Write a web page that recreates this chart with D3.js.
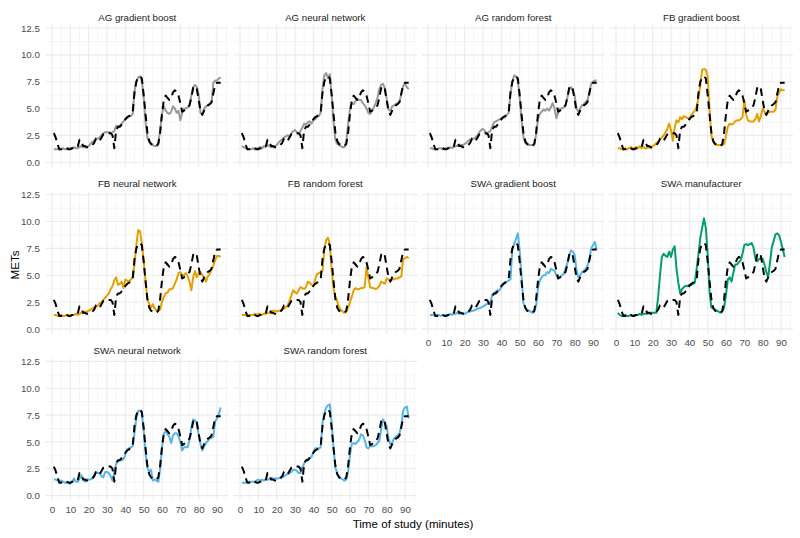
<!DOCTYPE html>
<html><head><meta charset="utf-8">
<script src="https://cdn.jsdelivr.net/npm/d3@7"></script>
<style>body{margin:0;background:#fff}</style>
</head><body><svg id="c" width="800" height="538"></svg>
<script>
const minutes = [1,2,3,4,5,6,7,8,9,10,11,12,13,14,15,16,17,18,19,20,21,22,23,24,25,26,27,28,29,30,31,32,33,34,35,36,37,38,39,40,41,42,43,44,45,46,47,48,49,50,51,52,53,54,55,56,57,58,59,60,61,62,63,64,65,66,67,68,69,70,71,72,73,74,75,76,77,78,79,80,81,82,83,84,85,86,87,88,89,90,91,92];

const facetNames = ["AG gradient boost","AG neural network","AG random forest","FB gradient boost","FB neural network","FB random forest","SWA gradient boost","SWA manufacturer","SWA neural network","SWA random forest"];
const facetColors = ["#999999","#999999","#999999","#E69F00","#E69F00","#E69F00","#56B4E9","#009E73","#56B4E9","#56B4E9"];

const criterion = [2.7,2.3,1.7,1.2,1.2,1.3,1.4,1.3,1.2,1.2, 1.3,1.3,1.3,1.4,2.1,1.9,1.5,1.5,1.4,1.4, 1.5,1.6,1.8,2.2,2.2,2.0,2.3,2.6,2.7,2.7, 2.7,2.7,2.5,1.3,3.0,3.3,3.3,3.5,3.7,4.0, 4.2,4.3,4.4,4.6,6.5,7.5,7.9,8.0,7.8,6.3, 4.5,2.8,2.0,1.7,1.6,1.5,1.5,1.7,2.8,4.5, 5.8,6.2,6.0,5.8,6.0,6.5,6.7,6.6,6.2,5.5, 4.7,4.8,5.0,5.1,5.3,6.0,6.9,7.1,6.8,5.8, 4.8,4.4,4.8,5.1,5.3,5.4,5.6,6.4,7.2,7.4, 7.4,7.4];

const agGradientBoost = [1.2,1.2,1.2,1.2,1.2,1.3,1.2,1.2,1.3,1.3, 1.3,1.4,1.3,1.3,1.4,1.5,1.4,1.4,1.4,1.5, 1.7,1.9,2.0,2.2,2.2,2.3,2.5,2.7,2.8,2.8, 2.8,2.7,2.8,2.9,3.4,3.3,3.4,3.6,3.8,4.0, 4.1,4.3,4.3,4.5,6.6,7.5,7.9,8.0,7.6,6.0, 3.8,2.3,1.9,1.7,1.6,1.5,1.5,1.8,3.0,4.5, 5.2,4.8,4.6,4.5,4.7,5.2,5.0,4.6,4.8,3.9, 4.6,5.0,5.0,5.1,5.3,6.2,7.0,7.2,7.0,6.3, 4.6,4.5,5.0,5.2,5.3,5.4,5.5,7.4,7.6,7.6, 7.8,7.9];

const agNeuralNetwork = [1.5,1.4,1.3,1.3,1.2,1.2,1.3,1.2,1.3,1.3, 1.4,1.3,1.5,1.4,1.6,1.5,1.4,1.4,1.5,1.6, 1.8,2.0,2.1,2.3,2.4,2.5,2.4,2.7,2.9,3.0, 2.8,2.6,2.9,3.2,3.6,3.5,3.7,3.8,3.6,3.9, 4.0,4.2,4.3,4.6,6.8,8.1,8.3,7.8,8.2,6.2, 3.8,2.1,1.7,1.6,1.5,1.4,1.4,2.0,3.6,5.0, 5.5,5.4,5.7,5.9,5.8,5.8,5.5,5.3,5.0,4.6, 4.5,4.8,5.1,5.5,6.0,6.8,7.2,7.3,6.9,5.9, 4.9,4.8,5.2,5.3,5.4,5.5,5.6,6.4,7.1,7.3, 7.0,6.8];

const agRandomForest = [1.3,1.3,1.2,1.2,1.2,1.3,1.3,1.2,1.3,1.3, 1.3,1.4,1.3,1.4,1.5,1.5,1.6,1.6,1.6,1.7, 1.8,2.0,2.1,2.2,2.2,2.3,2.5,2.8,3.0,3.1, 2.9,2.6,2.8,2.9,3.3,3.7,3.8,3.9,4.0,4.1, 4.1,4.2,4.4,4.6,6.4,7.5,8.1,8.0,7.6,6.0, 4.0,2.4,1.8,1.7,1.6,1.6,1.6,1.7,2.6,4.0, 4.5,4.7,4.9,4.8,5.0,4.8,5.1,5.5,5.0,4.1, 4.6,5.0,5.0,5.1,5.3,6.0,6.8,7.0,6.6,6.2, 5.0,4.7,5.0,5.3,5.4,5.6,5.8,6.5,7.3,7.5, 7.6,7.6];

const fbGradientBoost = [1.3,1.3,1.2,1.2,1.3,1.2,1.3,1.4,1.3,1.3, 1.4,1.3,1.5,1.3,1.4,1.3,1.3,1.4,1.3,1.5, 1.6,1.8,1.9,2.1,2.3,2.5,2.8,3.1,3.6,3.0, 2.0,3.2,3.9,3.7,4.2,4.0,4.3,4.2,4.1,4.1, 4.4,4.6,4.8,5.2,6.0,7.2,8.6,8.7,8.6,8.0, 5.0,2.5,1.9,1.7,1.6,1.6,1.6,1.6,1.7,2.5, 3.3,3.6,3.5,3.6,3.8,3.9,3.9,4.0,4.2,5.8, 4.4,3.9,3.8,3.8,3.8,4.0,4.5,3.8,4.3,5.0, 4.7,4.4,4.6,4.7,4.7,4.7,4.9,6.1,6.5,6.8, 6.7,6.7];

const fbNeuralNetwork = [1.3,1.3,1.2,1.2,1.3,1.2,1.2,1.3,1.3,1.2, 1.3,1.3,1.4,1.3,1.4,1.5,1.5,1.6,1.6,1.7, 1.8,1.9,2.0,2.1,2.2,2.4,2.5,2.7,2.9,3.1, 3.3,3.7,4.0,4.5,4.8,4.1,4.2,4.4,3.8,4.6, 4.5,4.4,4.6,4.8,6.0,7.8,9.2,9.1,8.0,6.3, 4.5,2.8,2.3,2.0,2.3,1.9,1.7,1.7,1.8,2.5, 3.0,3.3,3.4,3.7,3.7,3.8,4.2,4.6,5.2,5.3, 5.0,5.0,5.2,4.9,4.4,3.6,4.8,5.4,4.8,5.2, 5.3,5.0,4.8,4.4,4.9,5.1,5.5,5.9,6.4,6.8, 6.8,6.7];

const fbRandomForest = [1.3,1.3,1.3,1.2,1.3,1.3,1.3,1.4,1.3,1.4, 1.4,1.3,1.4,1.4,1.5,1.5,1.6,1.7,1.7,1.6, 1.7,1.7,1.8,1.9,2.0,2.2,2.6,3.1,3.6,3.4, 3.3,3.6,3.9,3.8,3.7,3.9,4.4,4.3,4.1,4.0, 4.6,5.1,5.2,5.3,5.4,7.4,8.3,8.5,7.8,5.5, 3.8,3.0,2.6,2.0,1.8,1.6,1.5,1.6,2.0,2.5, 3.0,3.6,3.8,3.7,3.7,3.8,3.8,3.9,5.7,4.8, 3.9,3.8,3.8,3.7,3.8,4.0,4.4,4.3,4.2,4.7, 4.6,4.5,4.6,4.6,4.7,4.7,4.8,4.9,6.5,6.6, 6.7,6.6];

const swaGradientBoost = [1.3,1.3,1.3,1.2,1.3,1.3,1.2,1.3,1.3,1.3, 1.3,1.4,1.3,1.4,1.4,1.5,1.4,1.5,1.5,1.4, 1.5,1.6,1.6,1.7,1.7,1.8,1.9,1.9,2.0,2.1, 2.2,2.3,2.4,2.3,3.2,3.3,3.5,3.6,3.6,3.9, 4.1,4.3,4.4,4.5,4.6,7.4,7.9,8.4,8.9,7.3, 5.0,2.4,2.0,1.8,1.7,1.6,1.5,1.6,2.2,3.8, 4.5,4.8,5.0,5.0,5.3,5.2,5.6,5.5,5.4,5.0, 4.7,4.8,5.0,5.1,5.6,6.1,6.8,7.3,7.2,6.9, 5.5,4.8,5.0,5.3,5.4,5.6,5.9,6.4,7.5,7.8, 8.1,7.4];

const swaManufacturer = [1.5,1.3,1.2,1.2,1.3,1.2,1.2,1.3,1.2,1.3, 1.3,1.3,1.4,1.3,1.4,1.4,1.4,1.5,1.5,1.5, 1.5,1.5,3.0,5.0,6.7,7.0,6.8,6.7,7.2,6.7, 7.4,7.7,5.6,4.3,3.3,3.7,3.9,4.0,4.0,4.1, 4.1,4.2,4.3,5.6,7.0,8.5,9.4,10.3,9.4,7.0, 3.5,2.0,1.9,1.8,1.7,1.6,1.5,1.6,2.0,3.2, 4.6,4.8,4.4,5.2,6.0,6.0,6.2,6.4,7.0,7.8, 7.9,7.8,7.9,8.0,7.6,6.6,6.3,6.5,6.6,6.5, 6.0,5.3,4.8,6.2,7.6,8.2,8.8,8.9,8.7,8.1, 7.4,6.7];

const swaNeuralNetwork = [1.5,1.5,1.4,1.4,1.4,1.3,1.2,1.2,1.2,1.1, 1.3,1.6,1.3,1.3,1.6,1.9,1.5,1.3,1.5,1.5, 1.5,1.6,1.9,2.2,2.1,2.1,1.8,1.7,2.2,2.2, 2.1,1.8,1.4,2.2,3.0,3.2,3.3,3.3,3.4,3.8, 4.3,4.4,4.5,4.6,5.8,7.2,7.9,7.9,7.7,6.0, 4.0,2.6,2.2,2.4,1.4,1.5,1.4,1.3,2.5,4.5, 5.8,6.0,5.7,5.5,4.9,5.6,5.8,5.8,5.5,5.0, 4.2,4.5,4.5,4.5,5.2,6.3,7.1,7.0,6.8,5.6, 4.8,4.2,4.6,4.9,5.1,5.3,5.4,5.5,6.9,7.2, 7.6,8.2];

const swaRandomForest = [1.2,1.2,1.2,1.3,1.3,1.3,1.3,1.3,1.4,1.5, 1.4,1.5,1.4,1.5,1.5,1.5,1.6,1.6,1.6,1.6, 1.6,1.7,1.7,1.8,1.9,2.0,2.1,2.2,2.4,2.4, 2.3,2.1,2.1,2.6,3.0,3.3,3.4,3.5,3.6,4.0, 4.4,4.4,4.4,4.5,6.8,7.6,8.2,8.4,8.5,6.8, 4.5,2.6,2.1,1.8,1.6,1.5,1.4,1.5,2.3,3.8, 4.8,4.9,4.8,5.0,5.2,5.7,5.6,5.2,4.5,4.4, 4.6,4.6,4.6,4.7,4.9,5.1,6.2,7.1,6.8,6.5, 5.3,4.8,4.9,5.3,5.5,5.6,5.8,6.5,7.9,8.2, 8.3,7.2];

const predictions = [agGradientBoost, agNeuralNetwork, agRandomForest, fbGradientBoost, fbNeuralNetwork, fbRandomForest, swaGradientBoost, swaManufacturer, swaNeuralNetwork, swaRandomForest];

const yTicks = [0, 2.5, 5, 7.5, 10, 12.5];
const yMinor = [1.25, 3.75, 6.25, 8.75, 11.25];
const xTicks = [0, 10, 20, 30, 40, 50, 60, 70, 80, 90];
const xMinor = [5, 15, 25, 35, 45, 55, 65, 75, 85, 95];

// layout
const nCol = 4;
const panelLeft = 45.5, colStep = 188, panelW = 183.5;
const panelTop = 25, rowStep = 166.7, panelH = 141.7;
const font = "'Liberation Sans', Arial, Helvetica, sans-serif";

const svg = d3.select("#c");
svg.append("rect").attr("width",800).attr("height",538).attr("fill","#fff");

const x = d3.scaleLinear().domain([-3.55, 96.55]).range([0, panelW]);
const y = d3.scaleLinear().domain([-0.42, 12.78]).range([panelH, 0]);

facetNames.forEach((name, i) => {
  const col = i % nCol, row = Math.floor(i / nCol);
  const g = svg.append("g").attr("transform", `translate(${panelLeft + col*colStep},${panelTop + row*rowStep})`);

  // grid
  g.selectAll(".ymin").data(yMinor).join("line")
    .attr("x1",0).attr("x2",panelW).attr("y1",d=>y(d)).attr("y2",d=>y(d))
    .attr("stroke","#F2F2F2").attr("stroke-width",0.8);
  g.selectAll(".xmin").data(xMinor).join("line")
    .attr("y1",0).attr("y2",panelH).attr("x1",d=>x(d)).attr("x2",d=>x(d))
    .attr("stroke","#F2F2F2").attr("stroke-width",0.8);
  g.selectAll(".ymaj").data(yTicks).join("line")
    .attr("x1",0).attr("x2",panelW).attr("y1",d=>y(d)).attr("y2",d=>y(d))
    .attr("stroke","#EBEBEB").attr("stroke-width",1.1);
  g.selectAll(".xmaj").data(xTicks).join("line")
    .attr("y1",0).attr("y2",panelH).attr("x1",d=>x(d)).attr("x2",d=>x(d))
    .attr("stroke","#EBEBEB").attr("stroke-width",1.1);

  // strip title
  g.append("text").attr("x", panelW/2).attr("y", -7.8)
    .attr("text-anchor","middle").attr("dominant-baseline","central")
    .attr("font-family",font).attr("font-size","9.7px").attr("fill","#1A1A1A")
    .text(name);

  const line = d3.line().x((d,k)=>x(minutes[k])).y(d=>y(d));

  g.append("path").datum(predictions[i]).attr("d", line)
    .attr("fill","none").attr("stroke", facetColors[i]).attr("stroke-width",2)
    .attr("stroke-linejoin","round");
  g.append("path").datum(criterion).attr("d", line)
    .attr("fill","none").attr("stroke","#000").attr("stroke-width",2)
    .attr("stroke-dasharray","7.5,5").attr("stroke-linejoin","round");

  // y axis labels on first column
  if (col === 0) {
    const ya = g.append("g").call(d3.axisLeft(y).tickValues(yTicks).tickSize(0).tickPadding(5.5).tickFormat(d3.format(".1f")));
    ya.select(".domain").remove();
    ya.selectAll("text").attr("font-family",font).attr("font-size","9.8px").attr("fill","#4D4D4D");
  }
  // x axis labels on bottom panels of each column
  const below = i + nCol;
  if (below >= facetNames.length) {
    const xa = g.append("g").attr("transform",`translate(0,${panelH})`)
      .call(d3.axisBottom(x).tickValues(xTicks).tickSize(0).tickPadding(6).tickFormat(d3.format("d")));
    xa.select(".domain").remove();
    xa.selectAll("text").attr("font-family",font).attr("font-size","9.8px").attr("fill","#4D4D4D");
  }
});

svg.append("text").attr("x", 413).attr("y", 523)
  .attr("text-anchor","middle").attr("dominant-baseline","central")
  .attr("font-family",font).attr("font-size","11.6px").attr("fill","#000")
  .text("Time of study (minutes)");
svg.append("text").attr("transform","translate(14,265) rotate(-90)")
  .attr("text-anchor","middle").attr("dominant-baseline","central")
  .attr("font-family",font).attr("font-size","11.6px").attr("fill","#000")
  .text("METs");
</script></body></html>
